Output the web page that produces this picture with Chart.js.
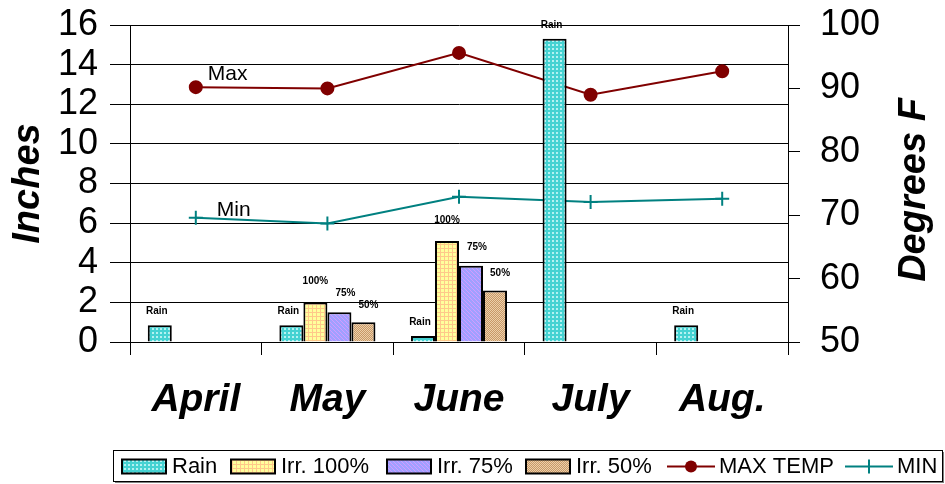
<!DOCTYPE html>
<html>
<head>
<meta charset="utf-8">
<script src="https://cdn.jsdelivr.net/npm/chart.js@4.4.1/dist/chart.umd.min.js"></script>
<style>
  html, body { margin: 0; padding: 0; background: #fff; }
  canvas { display: block; }
</style>
</head>
<body>
<canvas id="rainChart" width="945" height="484"></canvas>
<script>
var months = ["April", "May", "June", "July", "Aug."];
var rain = [0.85, 0.85, 0.3, 15.3, 0.85];
var irr100 = [null, 2.0, 5.1, null, null];
var irr75 = [null, 1.5, 3.85, null, null];
var irr50 = [null, 1.0, 2.6, null, null];
var maxTemp = [90.2, 90.0, 95.6, 89.0, 92.7];
var minTemp = [69.6, 68.7, 72.9, 72.1, 72.6];
var barLabels = ["Rain", "100%", "75%", "50%"];

var FONT = "'Liberation Sans', Arial, sans-serif";

// small tiled fills for the bars
function makePattern(base, fg, cells) {
    var c = document.createElement("canvas");
    c.width = 4; c.height = 4;
    var g = c.getContext("2d");
    g.fillStyle = base;
    g.fillRect(0, 0, 4, 4);
    g.fillStyle = fg;
    cells.forEach(function (p) { g.fillRect(p[0], p[1], 1, 1); });
    return g.createPattern(c, "repeat");
}

var rainFill = makePattern("#45d2d2", "#b4f2f2", [[0,0],[1,0],[0,1],[1,1]]);
var fill100 = makePattern("#ffff9c", "#ffc88a", [[0,0],[1,0],[2,0],[3,0],[0,1],[0,2],[0,3]]);
var fill75 = makePattern("#a0a0ff", "#d29cff", [[0,0],[1,1],[2,2],[3,3]]);
var fill50 = makePattern("#c89868", "#ecd0aa", [[0,0],[1,1],[2,2],[3,3],[2,0],[3,1],[0,2],[1,3]]);

var labelShift = [[-3, 11], [0, 18], [6, 16], [5, 14]];
var legendX = [122, 231, 387, 526, 667, 845];

// fixed axis sizes, no extra room for overhanging tick labels
function fixSize(w, h) {
    return function (s) {
        if (w) s.width = w;
        if (h) s.height = h;
        s.paddingTop = 0;
        s.paddingBottom = 0;
        s.paddingLeft = 0;
        s.paddingRight = 0;
    };
}

var extras = {
    id: "extras",
    afterDatasetsDraw: function (chart) {
        var ctx = chart.ctx;
        ctx.save();
        // labels over the bars
        ctx.fillStyle = "#000";
        ctx.font = "bold 10px " + FONT;
        ctx.textAlign = "center";
        ctx.textBaseline = "alphabetic";
        for (var d = 0; d < 4; d++) {
            var meta = chart.getDatasetMeta(d);
            meta.data.forEach(function (bar, i) {
                if (chart.data.datasets[d].data[i] == null) return;
                ctx.fillText(barLabels[d], bar.x + labelShift[d][0], bar.y - labelShift[d][1]);
            });
        }
        // Max / Min notes beside the first points
        var pMax = chart.getDatasetMeta(4).data[0];
        var pMin = chart.getDatasetMeta(5).data[0];
        ctx.font = "21px " + FONT;
        ctx.textAlign = "left";
        ctx.fillText("Max", pMax.x + 12, pMax.y - 7);
        ctx.fillText("Min", pMin.x + 21, pMin.y - 2);
        ctx.restore();
    },
    afterDraw: function (chart) {
        var ctx = chart.ctx;
        ctx.save();
        // right axis title, reading upward
        ctx.translate(915, 190);
        ctx.rotate(-Math.PI / 2);
        ctx.font = "italic bold 38px " + FONT;
        ctx.fillStyle = "#000";
        ctx.textAlign = "center";
        ctx.textBaseline = "middle";
        ctx.fillText("Degrees F", 0, 0);
        ctx.restore();

        // legend frame
        ctx.save();
        var bx = 113, by = 450, bw = 829, bh = 31;
        ctx.fillStyle = "#808080";
        ctx.fillRect(bx + 2, by + 2, bw, bh);
        ctx.fillStyle = "#fff";
        ctx.fillRect(bx, by, bw, bh);
        ctx.strokeStyle = "#000";
        ctx.lineWidth = 1;
        ctx.strokeRect(bx + 0.5, by + 0.5, bw, bh);

        var cy = by + bh / 2 + 1;
        ctx.font = "22px " + FONT;
        ctx.textBaseline = "middle";
        ctx.textAlign = "left";
        chart.data.datasets.forEach(function (ds, k) {
            var x = legendX[k];
            if (ds.type === "line") {
                ctx.strokeStyle = ds.borderColor;
                ctx.lineWidth = 2;
                ctx.beginPath();
                ctx.moveTo(x, cy);
                ctx.lineTo(x + 48, cy);
                ctx.stroke();
                if (ds.pointStyle === "circle") {
                    ctx.fillStyle = ds.pointBackgroundColor;
                    ctx.beginPath();
                    ctx.arc(x + 24, cy, 6, 0, Math.PI * 2);
                    ctx.fill();
                } else {
                    ctx.beginPath();
                    ctx.moveTo(x + 24, cy - 7);
                    ctx.lineTo(x + 24, cy + 7);
                    ctx.stroke();
                }
                x += 52;
            } else {
                ctx.fillStyle = ds.backgroundColor;
                ctx.fillRect(x, cy - 7, 44, 14);
                ctx.strokeStyle = "#000";
                ctx.lineWidth = 2;
                ctx.strokeRect(x, cy - 7, 44, 14);
                x += 50;
            }
            ctx.fillStyle = "#000";
            ctx.fillText(ds.label, x, cy);
        });
        ctx.restore();
    }
};

function barSet(label, data, fill) {
    return {
        type: "bar",
        label: label,
        data: data,
        backgroundColor: fill,
        borderColor: "#000",
        borderWidth: 2,
        yAxisID: "y",
        order: 0,
        barPercentage: 1.0,
        categoryPercentage: 0.73
    };
}

new Chart(document.getElementById("rainChart"), {
    data: {
        labels: months,
        datasets: [
            barSet("Rain", rain, rainFill),
            barSet("Irr. 100%", irr100, fill100),
            barSet("Irr. 75%", irr75, fill75),
            barSet("Irr. 50%", irr50, fill50),
            {
                type: "line",
                label: "MAX TEMP",
                data: maxTemp,
                yAxisID: "yT",
                borderColor: "#800000",
                borderWidth: 2,
                pointStyle: "circle",
                pointRadius: 6,
                pointBackgroundColor: "#800000",
                pointBorderColor: "#800000",
                tension: 0,
                order: 1
            },
            {
                type: "line",
                label: "MIN",
                data: minTemp,
                yAxisID: "yT",
                borderColor: "#008080",
                borderWidth: 2,
                pointStyle: "cross",
                pointRadius: 7,
                pointBorderColor: "#008080",
                pointBorderWidth: 2,
                tension: 0,
                order: 1
            }
        ]
    },
    options: {
        responsive: false,
        animation: false,
        devicePixelRatio: 1,
        layout: { padding: { top: 25, bottom: 42, left: 0, right: 0 } },
        plugins: {
            legend: { display: false },
            tooltip: { enabled: false }
        },
        scales: {
            x: {
                type: "category",
                offset: true,
                afterFit: fixSize(0, 100),
                grid: {
                    offset: true,
                    drawOnChartArea: false,
                    drawTicks: true,
                    tickLength: 13,
                    color: "#000"
                },
                border: { display: true, color: "#000" },
                ticks: {
                    color: "#000",
                    padding: 22,
                    maxRotation: 0,
                    font: { family: FONT, size: 39, weight: "bold", style: "italic" }
                }
            },
            y: {
                position: "left",
                min: 0,
                max: 16,
                afterFit: fixSize(130, 0),
                grid: { color: "#000", lineWidth: 1, tickLength: 20 },
                border: { display: true, color: "#000" },
                ticks: {
                    stepSize: 2,
                    autoSkip: false,
                    color: "#000",
                    padding: 12,
                    font: { family: FONT, size: 36 }
                },
                title: {
                    display: true,
                    text: "Inches",
                    color: "#000",
                    padding: { top: 6, bottom: 0 },
                    font: { family: FONT, size: 38, weight: "bold", style: "italic" }
                }
            },
            yT: {
                position: "right",
                min: 50,
                max: 100,
                afterFit: fixSize(157, 0),
                grid: { drawOnChartArea: false, color: "#000", tickLength: 12 },
                border: { display: true, color: "#000" },
                ticks: {
                    stepSize: 10,
                    autoSkip: false,
                    color: "#000",
                    padding: 20,
                    font: { family: FONT, size: 36 }
                }
            }
        }
    },
    plugins: [extras]
});
</script>
</body>
</html>
